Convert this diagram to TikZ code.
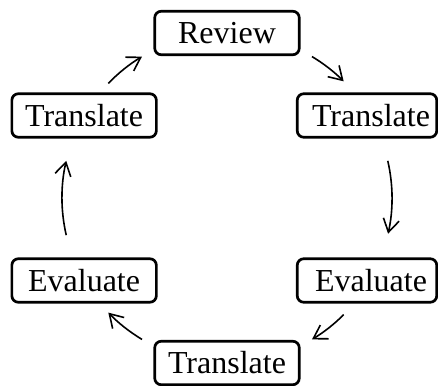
\documentclass[tikz,border=0pt]{standalone}
\usepackage{fontspec}
\setmainfont{Liberation Serif}
\usetikzlibrary{arrows.meta}
\begin{document}
\begin{tikzpicture}[x=1pt,y=1pt,
  stage/.style={draw, line width=2.7pt, rounded corners=6.5pt,
    minimum width=144.5pt, minimum height=43.5pt, inner sep=0pt,
    font=\fontsize{32}{38}\selectfont},
  stageR/.style={stage, minimum width=139.5pt},
  arr/.style={line width=1.6pt, -{Straight Barb[length=13pt,width=16pt,line width=1.6pt]}}]
\useasboundingbox (-227,-187) rectangle (211,198);
\coordinate (c) at (0,0);
\node[stage]  (review) at (90:165)  {Review};
\node[stage]  (tl)     at (150:165) {Translate};
\node[stageR] (tr)     at (140,82.5) {\hspace*{8pt}Translate};
\node[stageR] (er)     at (140,-82.5) {\hspace*{8pt}Evaluate};
\node[stage]  (el)     at (210:165) {Evaluate};
\node[stage]  (tb)     at (270:165) {Translate};
\draw[arr] ([shift={(136:165)}]c) arc[start angle=136, end angle=121, radius=165];
\draw[arr] ([shift={(59:165)}]c) arc[start angle=59, end angle=45, radius=165];
\draw[arr] ([shift={(13:165)}]c) arc[start angle=13, end angle=-12.5, radius=165];
\draw[arr] ([shift={(-45:165)}]c) arc[start angle=-45, end angle=-59, radius=165];
\draw[arr] ([shift={(-121:165)}]c) arc[start angle=-121, end angle=-136, radius=165];
\draw[arr] ([shift={(193:165)}]c) arc[start angle=193, end angle=167, radius=165];
\end{tikzpicture}
\end{document}
